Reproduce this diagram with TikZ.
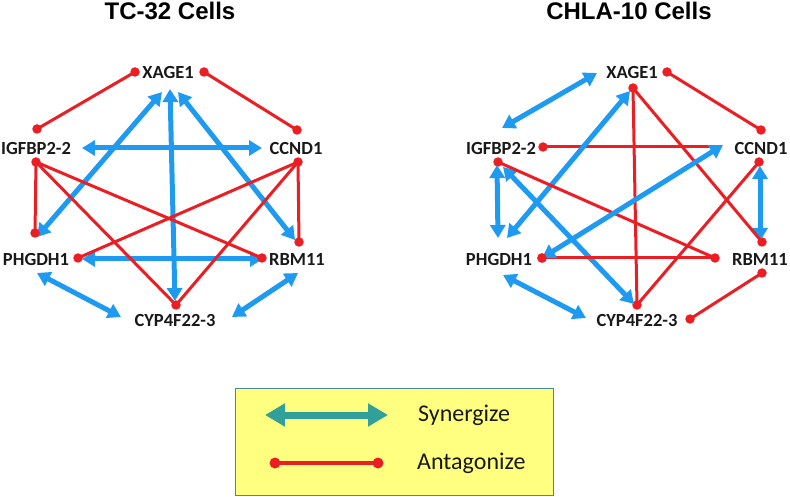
\documentclass[tikz,border=0pt]{standalone}
\usepackage{fontspec}
\setmainfont{Carlito}
\newfontfamily\titlefont{Liberation Sans}
\usetikzlibrary{arrows.meta}
\definecolor{synblue}{RGB}{30,155,240}
\definecolor{antred}{RGB}{235,30,35}
\definecolor{legteal}{RGB}{49,160,155}
\definecolor{legfill}{RGB}{255,255,128}
\definecolor{legborder}{RGB}{70,140,150}
\tikzset{
  lbl/.style={font=\bfseries\fontsize{18.5}{20}\selectfont, text=black!90, inner sep=0pt},
  ttl/.style={font=\titlefont\bfseries\fontsize{24}{26}\selectfont, inner sep=0pt},
  dot/.style={circle, fill=antred, inner sep=0pt, minimum size=9.5pt},
  antline/.style={draw=antred, line width=3pt},
  synarrow/.style={draw=synblue, line width=5pt, {Triangle[length=13pt,width=15pt]}-{Triangle[length=13pt,width=15pt]}},
  legtext/.style={font=\fontsize{24}{26}\selectfont, anchor=west, inner sep=0pt, text=black!90}
}
\begin{document}
\begin{tikzpicture}[x=1pt,y=-1pt]
\useasboundingbox (0,0) rectangle (790,497);

% titles
\node[ttl] (t1) at (170,11) {TC-32 Cells};
\node[ttl] (t2) at (629,11) {CHLA-10 Cells};

% ===== Left graph =====
\node[lbl] (lX) at (168,72) {XAGE1};
\node[lbl] (lI) at (36,148) {IGFBP2-2};
\node[lbl] (lC) at (296,148) {CCND1};
\node[lbl] (lP) at (36,259) {PHGDH1};
\node[lbl] (lR) at (297,259) {RBM11};
\node[lbl] (lY) at (175,320) {CYP4F22-3};

% blue endpoints left
\coordinate (bIC1) at (82,148);  \coordinate (bIC2) at (262,148);
\coordinate (bXP1) at (162,92);  \coordinate (bXP2) at (37,237);
\coordinate (bXY1) at (170,89);  \coordinate (bXY2) at (175,301);
\coordinate (bXR1) at (178,92);  \coordinate (bXR2) at (295,240);
\coordinate (bPR1) at (82,259);  \coordinate (bPR2) at (263,259);
\coordinate (bPY1) at (37,273);  \coordinate (bPY2) at (121,317);
\coordinate (bRY1) at (298,273); \coordinate (bRY2) at (232,317);

\draw[synarrow] (bIC1) -- (bIC2);
\draw[synarrow] (bXP1) -- (bXP2);
\draw[synarrow] (bXY1) -- (bXY2);
\draw[synarrow] (bXR1) -- (bXR2);
\draw[synarrow] (bPR1) -- (bPR2);
\draw[synarrow] (bPY1) -- (bPY2);
\draw[synarrow] (bRY1) -- (bRY2);

% red dots left
\node[dot] (dXa) at (135,72) {};
\node[dot] (dXb) at (204,72) {};
\node[dot] (dIt) at (37,129) {};
\node[dot] (dIb) at (36,162) {};
\node[dot] (dCt) at (297,130) {};
\node[dot] (dCb) at (298,162) {};
\node[dot] (dPt) at (35,233) {};
\node[dot] (dPr) at (78,258) {};
\node[dot] (dRl) at (262,258) {};
\node[dot] (dRt) at (299,242) {};
\node[dot] (dYt) at (176,305) {};

\draw[antline] (dXa.center) -- (dIt.center);
\draw[antline] (dXb.center) -- (dCt.center);
\draw[antline] (dIb.center) -- (dPt.center);
\draw[antline] (dIb.center) -- (dRl.center);
\draw[antline] (dIb.center) -- (dYt.center);
\draw[antline] (dCb.center) -- (dPr.center);
\draw[antline] (dCb.center) -- (dYt.center);
\draw[antline] (dCb.center) -- (dRt.center);

% ===== Right graph =====
\node[lbl] (rX) at (632,72) {XAGE1};
\node[lbl] (rI) at (501,148) {IGFBP2-2};
\node[lbl] (rC) at (761,148) {CCND1};
\node[lbl] (rP) at (499,259) {PHGDH1};
\node[lbl] (rR) at (760,259) {RBM11};
\node[lbl] (rY) at (637,320) {CYP4F22-3};

% red dots right
\node[dot] (eXr) at (667,72) {};
\node[dot] (eXb) at (633,88) {};
\node[dot] (eIr) at (543,147) {};
\node[dot] (eIb) at (498,162) {};
\node[dot] (eCt) at (761,130) {};
\node[dot] (eCb) at (759,162) {};
\node[dot] (ePr) at (542,258) {};
\node[dot] (eRl) at (715,258) {};
\node[dot] (eRt) at (762,242) {};
\node[dot] (eRb) at (762,273) {};
\node[dot] (eYt) at (637,305) {};
\node[dot] (eYr) at (690,319) {};
\coordinate (eCl) at (716,147);

\draw[antline] (eIr.center) -- (eCl);

% blue endpoints right
\coordinate (cXI1) at (597,73);  \coordinate (cXI2) at (502,128);
\coordinate (cXP1) at (630,91);  \coordinate (cXP2) at (507,238);
\coordinate (cIP1) at (497,165); \coordinate (cIP2) at (498,238);
\coordinate (cIY1) at (503,167); \coordinate (cIY2) at (634,304);
\coordinate (cPC1) at (542,258); \coordinate (cPC2) at (723,145);
\coordinate (cCR1) at (760,166); \coordinate (cCR2) at (760,241);
\coordinate (cPY1) at (503,275); \coordinate (cPY2) at (586,318);

\draw[synarrow] (cXI1) -- (cXI2);
\draw[synarrow] (cXP1) -- (cXP2);
\draw[synarrow] (cIP1) -- (cIP2);
\draw[synarrow] (cIY1) -- (cIY2);
\draw[synarrow] (cCR1) -- (cCR2);
\draw[synarrow] (cPY1) -- (cPY2);

\draw[antline] (eXr.center) -- (eCt.center);
\draw[antline] (eXb.center) -- (eYt.center);
\draw[antline] (eXb.center) -- (eRt.center);
\draw[antline] (eIb.center) -- (eRl.center);
\draw[antline] (ePr.center) -- (eRl.center);
\draw[antline] (eCb.center) -- (eYt.center);
\draw[antline] (eRb.center) -- (eYr.center);

\draw[synarrow] (cPC1) -- (cPC2);
\node[dot] at (ePr) {};

% ===== Legend =====
\node[draw=legborder, fill=legfill, line width=1pt, minimum width=318pt, minimum height=107pt, inner sep=0pt, anchor=north west] (leg) at (235,388) {};
\coordinate (sA) at (265,415); \coordinate (sB) at (388,415);
\draw[draw=legteal, line width=7pt, {Triangle[length=20pt,width=22pt]}-{Triangle[length=20pt,width=22pt]}] (sA) -- (sB);
\node[legtext] (sT) at (418,415) {Synergize};
\node[dot, minimum size=11pt] (aA) at (275,463) {};
\node[dot, minimum size=11pt] (aB) at (378,463) {};
\draw[antred, line width=3.5pt] (aA.center) -- (aB.center);
\node[legtext] (aT) at (417,463) {Antagonize};
\end{tikzpicture}
\end{document}
